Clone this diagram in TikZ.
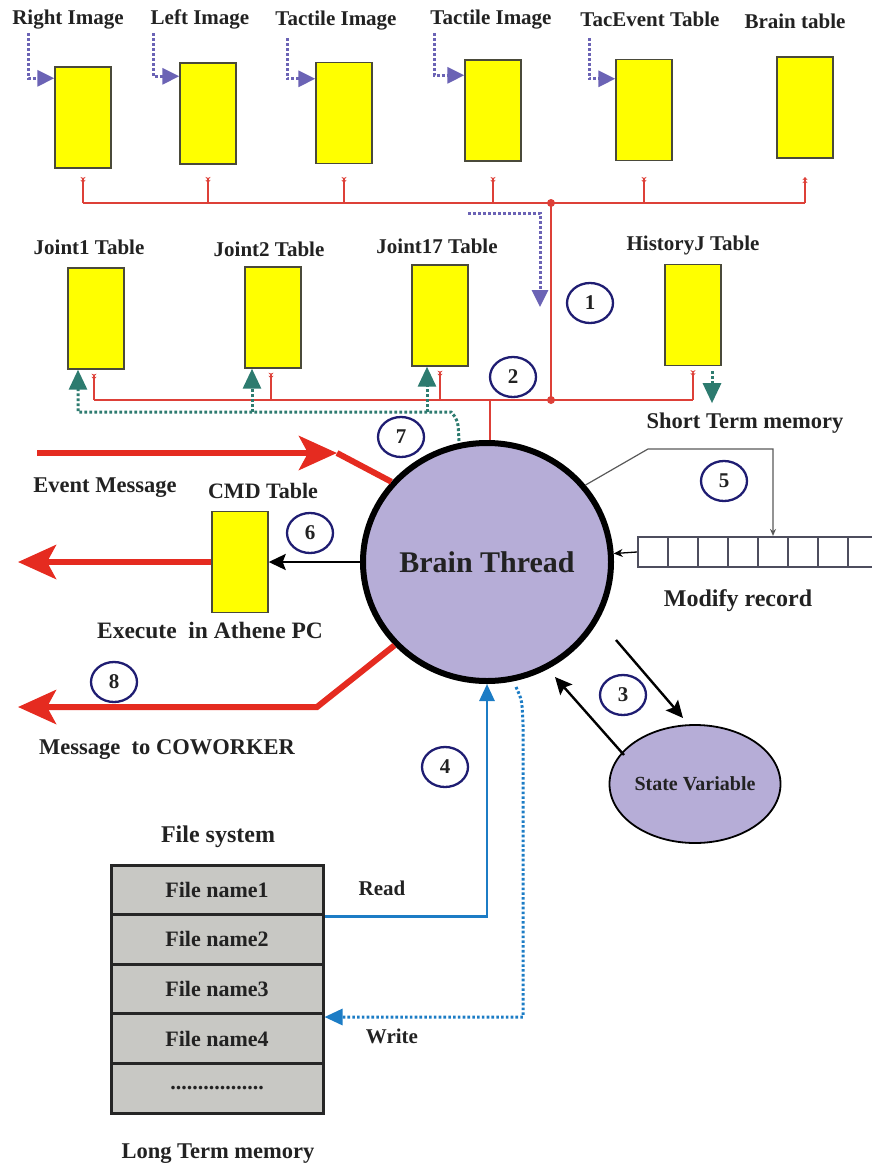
\documentclass[tikz,border=0pt]{standalone}
\usepackage{fontspec}
\setmainfont{Liberation Serif}
\usetikzlibrary{arrows.meta,shapes.geometric,calc}

\definecolor{tabyellow}{HTML}{FFFF00}
\definecolor{tabedge}{HTML}{4A4A3A}
\definecolor{lavender}{HTML}{B6ADD7}
\definecolor{busred}{HTML}{DD4038}
\definecolor{fatred}{HTML}{E52B20}
\definecolor{purp}{HTML}{6B63B5}
\definecolor{teal}{HTML}{2D7B6F}
\definecolor{fblue}{HTML}{1C7CC5}
\definecolor{navy}{HTML}{1F1D72}
\definecolor{filegray}{HTML}{C8C8C4}
\definecolor{cellgray}{HTML}{4E4E5E}
\definecolor{txt}{HTML}{222222}

\begin{document}
\begin{tikzpicture}[x=1pt,y=-1pt,
  ytab/.style={draw=tabedge, fill=tabyellow, line width=1.4pt,
    minimum width=56pt, minimum height=101pt, inner sep=0pt},
  lbl/.style={font=\bfseries\fontsize{21}{24}\selectfont, text=txt,
    inner sep=0pt, text height=14pt, text depth=4pt},
  numc/.style={ellipse, draw=navy, line width=2.3pt, minimum width=46pt,
    minimum height=40pt, inner sep=0pt, text=txt, font=\bfseries\fontsize{21}{21}\selectfont},
  redline/.style={draw=busred, line width=1.4pt},
  marktip/.style={-{Stealth[length=3pt,width=5pt,reversed]Stealth[length=3pt,width=5pt,reversed]}},
  uptip/.style={-{Stealth[length=3pt,width=5pt]Stealth[length=3pt,width=5pt]}},
  redfat/.style={draw=fatred, line width=6pt},
  bigtip/.style={-{Stealth[length=38pt,width=34pt,inset=9pt]}},
  pdot/.style={draw=purp, line width=3pt, dash pattern=on 2.8pt off 2.2pt,
    -{Triangle[length=17pt,width=16pt]}},
  tdot/.style={draw=teal, line width=3pt, dash pattern=on 2.8pt off 2.2pt,
    -{Triangle[length=20pt,width=18pt]}},
  blk/.style={draw=black, line width=2.4pt, -{Stealth[length=17pt,width=16pt,inset=3pt]}},
  gline/.style={draw=black!65, line width=1.2pt, -{Stealth[length=7pt,width=6pt]}},
  cell/.style={draw=cellgray, line width=2.2pt, fill=white, minimum size=30pt, inner sep=0pt},
  frow/.style={draw=black!85, line width=3pt, fill=filegray, minimum width=212pt,
    minimum height=49.6pt, inner sep=0pt, text=txt, font=\bfseries\fontsize{22}{24}\selectfont},
  bline/.style={draw=fblue, line width=2.8pt, -{Triangle[length=17pt,width=15pt]}},
  bdot/.style={draw=fblue, line width=3pt, dash pattern=on 2.6pt off 2.2pt,
    -{Triangle[length=18pt,width=16pt]}},
]
\useasboundingbox (0,0) rectangle (872,1167);
\clip (0,0) rectangle (872,1167);

% ---------- sensor tables ----------
\node[ytab] (ri) at (83,117.5) {};
\node[ytab] (li) at (208,113.5) {};
\node[ytab] (ti) at (344,113) {};
\node[ytab] (tj) at (493,110.5) {};
\node[ytab] (te) at (644,110) {};
\node[ytab] (bt) at (805,107.5) {};

\node[lbl] (lri) at (68,19) {Right Image};
\node[lbl] (lli) at (200,19) {Left Image};
\node[lbl] (lti) at (336,20) {Tactile Image};
\node[lbl] (ltj) at (491,19) {Tactile Image};
\node[lbl] (lte) at (650,21) {TacEvent Table};
\node[lbl] (lbt) at (795,23) {Brain table};

% incoming sensor data
\coordinate (p1) at (28,33);
\coordinate (p2) at (153,33);
\coordinate (p3) at (287,38);
\coordinate (p4) at (434,33);
\coordinate (p5) at (589,38);
\draw[pdot] (p1) |- ([yshift=-12pt]ri.north west);
\draw[pdot] (p2) |- ([yshift=-14pt]li.north west);
\draw[pdot] (p3) |- ([yshift=-17pt]ti.north west);
\draw[pdot] (p4) |- ([yshift=-16pt]tj.north west);
\draw[pdot] (p5) |- ([yshift=-20pt]te.north west);

% ---------- upper bus ----------
\coordinate (stubrow) at (0,177);
\coordinate (jtop) at (551,203);
\coordinate (jlow) at (551,400);
\draw[redline] (ri.south |- jtop) -- (bt.south |- jtop);
\foreach \t in {ri,li,ti,tj,te}{
  \draw[redline, marktip] (\t.south |- jtop) -- (\t.south |- stubrow);
}
\draw[redline, uptip] (bt.south |- jtop) -- (bt.south |- stubrow);
\draw[redline] (jtop) -- (jlow);

% ---------- joint tables ----------
\node[ytab] (j1) at (96,318.5) {};
\node[ytab] (j2) at (273,317.5) {};
\node[ytab] (j17) at (440,315.5) {};
\node[ytab] (hj) at (693,315) {};

\node[lbl] (lj1) at (89,249) {Joint1 Table};
\node[lbl] (lj2) at (269,251) {Joint2 Table};
\node[lbl] (lj17) at (437,248) {Joint17 Table};
\node[lbl] (lhj) at (693,245) {HistoryJ Table};
\node[lbl, font=\bfseries\fontsize{22.5}{24}\selectfont] (lstm) at (745,423) {Short Term memory};

\draw[redline] ([xshift=-2pt]j1.south |- jlow) -- (hj.south |- jlow);
\draw[redline, marktip] ([xshift=-2pt]j1.south |- jlow) -- ([shift={(-2,4)}]j1.south);
\draw[redline, marktip] ([xshift=-2pt]j2.south |- jlow) -- ([shift={(-2,4)}]j2.south);
\draw[redline, marktip] (j17.south |- jlow) -- ([yshift=-4pt]j17.south);
\draw[redline, marktip] (hj.south |- jlow) -- ([yshift=-4pt]hj.south);
\fill[busred] (jtop) circle (4pt);
\fill[busred] (jlow) circle (4pt);

% data flow towards the brain
\coordinate (pa) at (468,213);
\coordinate (pb) at (540,307);
\draw[pdot] (pa) -| (pb);

% ---------- brain thread ----------
\node[ellipse, draw=black, line width=6pt, fill=lavender, minimum width=248pt,
  minimum height=238pt, inner sep=0pt, text=txt,
  font=\bfseries\fontsize{30}{32}\selectfont] (br) at (487,562) {Brain Thread};
\draw[redline, line width=2.6pt] ([xshift=3pt]br.north) -- ([xshift=3pt]br.north |- jlow);

% updates written back to the joint tables
\coordinate (ts) at (459,441);
\coordinate (tc) at (451,412);
\coordinate (t1) at ([xshift=-18pt]j1.south);
\coordinate (t2) at ([xshift=-21pt]j2.south);
\coordinate (t3) at ([xshift=-13pt]j17.south);
\draw[tdot] (ts) .. controls (458,420) .. (tc) -| (t1);
\draw[tdot] (t2 |- tc) -- (t2);
\draw[tdot] (t3 |- tc) -- (t3);
\draw[tdot] ([shift={(19,5)}]hj.south) -- ++(0,32);

% ---------- numbered steps ----------
\node[numc] (n1) at (590,303) {1};
\node[numc] (n2) at (513,377) {2};
\node[numc] (n3) at (623,695) {3};
\node[numc] (n4) at (445,767) {4};
\node[numc] (n5) at (724,481) {5};
\node[numc] (n6) at (310,533) {6};
\node[numc] (n7) at (401,437) {7};
\node[numc] (n8) at (114,682) {8};

% ---------- messages ----------
\coordinate (ev0) at (37,453);
\coordinate (ev1) at (337,453);
\draw[redfat, bigtip] (ev0) -- (ev1);
\draw[redfat] (ev1) -- (br.140);
\node[lbl, font=\bfseries\fontsize{22.5}{24}\selectfont] (lev) at (105,487) {Event Message};

\node[ytab] (cmd) at (240,562) {};
\node[lbl, font=\bfseries\fontsize{22}{24}\selectfont] (lcmd) at (263,493) {CMD Table};
\coordinate (ex) at (18,562);
\draw[redfat, bigtip] (cmd.west) -- (ex);
\draw[blk] (br.west) -- (cmd.east);
\node[lbl, font=\bfseries\fontsize{23.5}{24}\selectfont] (lex) at (210,633) {Execute \ in Athene PC};

\coordinate (cw1) at (317,707);
\coordinate (cw2) at (18,707);
\draw[redfat, bigtip] (br.222) -- (cw1) -- (cw2);
\node[lbl, font=\bfseries\fontsize{22.5}{24}\selectfont] (lcw) at (167,749) {Message \ to COWORKER};

% ---------- record buffer ----------
\foreach \i in {1,...,8}{
  \node[cell] (c\i) at (623+30*\i,552) {};
}
\draw[draw=black, line width=1.3pt, -{Stealth[length=9pt,width=8pt]}] (c1.west) -- (br);
\coordinate (k5) at (648,449);
\draw[gline] (br.38) -- (k5) -| (c5.north);
\node[lbl, font=\bfseries\fontsize{24}{26}\selectfont] (lmr) at (738,601) {Modify record};

% ---------- state variable ----------
\node[ellipse, draw=black, line width=1.8pt, fill=lavender, minimum width=140pt,
  minimum height=118pt, inner sep=0pt, text=txt,
  font=\bfseries\fontsize{20}{22}\selectfont] (sv) at (695,784) {State Variable};
\coordinate (a1) at (616,640);
\coordinate (a2) at (683,718);
\coordinate (b1) at (624,755);
\coordinate (b2) at (555,677);
\draw[blk] (a1) -- (a2);
\draw[blk] (b1) -- (b2);

% ---------- file system ----------
\node[lbl, font=\bfseries\fontsize{24}{26}\selectfont] (lfs) at (218,837) {File system};
\node[frow] (f1) at (217,889.8) {File name1};
\node[frow] (f2) at (217,939.4) {File name2};
\node[frow] (f3) at (217,989) {File name3};
\node[frow] (f4) at (217,1038.6) {File name4};
\node[frow] (f5) at (217,1088.2) {.................};
\node[lbl, font=\bfseries\fontsize{22.5}{24}\selectfont] (lltm) at (218,1153) {Long Term memory};

\draw[bline] ([yshift=-3pt]f2.north east) -| (br.south);
\node[lbl] (lrd) at (382,890) {Read};

\coordinate (wb) at (523,1017);
\draw[bdot] ([shift={(29,3)}]br.south) .. controls (522,700) .. (523,725) -- (wb) -- (wb -| f4.east);
\node[lbl] (lwr) at (392,1038) {Write};
\end{tikzpicture}
\end{document}
